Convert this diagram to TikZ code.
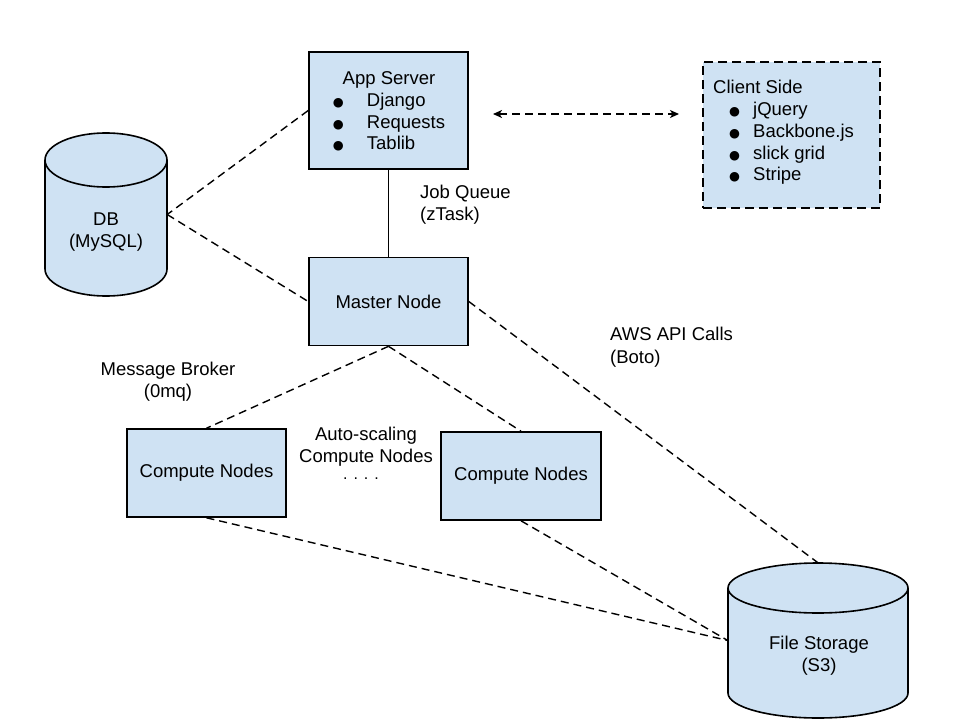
\documentclass[tikz,border=0pt]{standalone}
\usepackage{fontspec}
\setmainfont{Liberation Sans}
\newfontfamily\symfnt{DejaVu Sans}
\usetikzlibrary{arrows.meta}
\definecolor{boxblue}{HTML}{CFE2F3}
\newcommand\mybullet{{\symfnt\fontsize{12.5}{12.5}\selectfont ●}}
\newcommand\appbul{\makebox[34pt][l]{\mybullet}}
\newcommand\clbul{\hspace{16pt}\makebox[24pt][l]{\mybullet}}
\begin{document}
\begin{tikzpicture}[x=1pt,y=-1pt,
  every node/.style={font=\fontsize{18.5}{21.7}\selectfont, inner sep=0pt},
  box/.style={draw=black, fill=boxblue, line width=1.6pt, rectangle},
  conn/.style={line width=1.4pt, dash pattern=on 8pt off 5pt},
  solidconn/.style={line width=1.4pt},
  cyl/.style={draw=black, fill=boxblue, line width=1.6pt, line join=round},
  myarrows/.style={{Stealth[length=9pt,width=8pt,inset=2.5pt]}-{Stealth[length=9pt,width=8pt,inset=2.5pt]}}]
\useasboundingbox (0,0) rectangle (960,720);
\fill[white] (0,0) rectangle (960,720);

% DB cylinder
\draw[cyl] (45,160) -- (45,269) arc[start angle=180, end angle=360, x radius=61pt, y radius=27pt]
  -- (167,160) arc[start angle=0, end angle=180, x radius=61pt, y radius=27pt] -- cycle;
\draw[cyl, fill=none] (45,160) arc[start angle=180, end angle=360, x radius=61pt, y radius=27pt];
\node[minimum width=122pt, minimum height=163pt] (db) at (106,214.5) {};
\node[align=center] (dbtext) at (106,232) {DB\\(MySQL)};

% File storage cylinder
\draw[cyl] (728,588) -- (728,693) arc[start angle=180, end angle=360, x radius=90pt, y radius=25pt]
  -- (908,588) arc[start angle=0, end angle=180, x radius=90pt, y radius=25pt] -- cycle;
\draw[cyl, fill=none] (728,588) arc[start angle=180, end angle=360, x radius=90pt, y radius=25pt];
\node[minimum width=180pt, minimum height=155pt] (fs) at (818,640.5) {};
\node[align=center] (fstext) at (819,656) {File Storage\\(S3)};

% Boxes
\node[box, minimum width=159pt, minimum height=117pt] (app) at (388.5,110.5) {};
\node (apptext) at (389,113) {\begin{tabular}{@{}l@{}}\multicolumn{1}{@{}c@{}}{App Server}\\ \appbul Django\\ \appbul Requests\\ \appbul Tablib\end{tabular}};

\node[box, dash pattern=on 9pt off 5pt, minimum width=177pt, minimum height=146pt] (client) at (791.5,135) {};
\node[anchor=west] (clienttext) at (713,133) {\begin{tabular}{@{}l@{}}Client Side\\ \clbul jQuery\\ \clbul Backbone.js\\ \clbul slick grid\\ \clbul Stripe\end{tabular}};

\node[box, minimum width=159pt, minimum height=88pt] (master) at (388.5,301.5) {Master Node};
\node[box, minimum width=159pt, minimum height=88pt] (cl) at (206.5,473) {Compute Nodes};
\node[box, minimum width=160pt, minimum height=88pt] (cr) at (521,476) {Compute Nodes};

% Labels
\node[anchor=west, align=left] (jq) at (420,205) {Job Queue\\(zTask)};
\node[align=center] (mb) at (168,382) {Message Broker\\(0mq)};
\node[anchor=west, align=left, font=\fontsize{18.5}{23.5}\selectfont] (aws) at (610,347) {AWS API Calls\\(Boto)};
\node[align=center] (auto) at (366,447) {Auto-scaling\\Compute Nodes};
\node[anchor=base, font=\fontsize{16}{16}\selectfont] (dots) at (361,479) {. . . .};

% Connectors
\draw[conn] (app.west) -- (db.east);
\draw[conn] (db.east) -- (master.west);
\draw[solidconn] (app.south) -- (master.north);
\draw[conn] (master.south) -- (cl.north);
\draw[conn] (master.south) -- (cr.north);
\draw[conn] (master.east) -- (fs.north);
\draw[conn] (cl.south) -- (fs.west);
\draw[conn] (cr.south) -- (fs.west);
\coordinate (al) at (493,114);
\coordinate (ar) at (679,114);
\draw[conn, myarrows] (al) -- (ar);
\end{tikzpicture}
\end{document}
